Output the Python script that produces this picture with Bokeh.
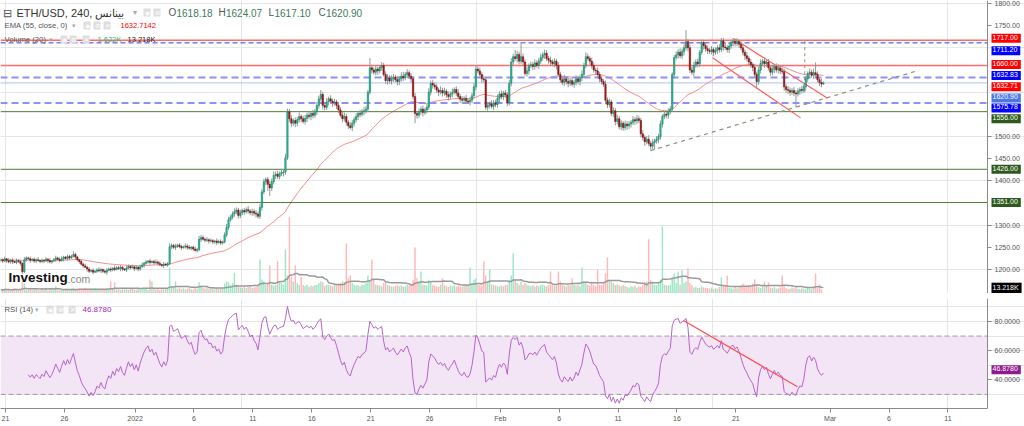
import numpy as np
import pandas as pd
from bokeh.plotting import figure
from bokeh.models import (Range1d, LinearAxis, FixedTicker, Label,
                          ColumnDataSource, NumeralTickFormatter, BoxAnnotation)
from bokeh.layouts import column
from bokeh.embed import file_html
from bokeh.resources import INLINE

# ---------------- data (4h bars, ETH/USD) ----------------
closes = [
    1222, 1219, 1224, 1220, 1217, 1221, 1218, 1216, 1220, 1218,
    1214, 1195, 1222, 1226, 1224, 1221, 1223, 1219, 1222, 1220,
    1218, 1221, 1219, 1223, 1220, 1217, 1219, 1222, 1226, 1223,
    1220, 1224, 1228, 1225, 1229, 1226, 1230, 1234, 1228, 1222,
    1218, 1212, 1208, 1205, 1201, 1196, 1198, 1194, 1196, 1199,
    1197, 1200, 1196, 1194, 1198, 1201, 1199, 1203, 1200, 1204,
    1202, 1205, 1201, 1199, 1203, 1207, 1204, 1206, 1202, 1205,
    1201, 1206, 1210, 1214, 1217, 1219, 1216, 1218, 1215, 1217,
    1214, 1211, 1209, 1212, 1210, 1213, 1251, 1254, 1250, 1252,
    1255, 1252, 1249, 1251, 1253, 1250, 1248, 1250, 1246, 1243,
    1245, 1268, 1272, 1268, 1266, 1267, 1264, 1265, 1262, 1264,
    1261, 1263, 1260, 1262, 1278, 1295, 1312, 1318, 1325, 1330,
    1334, 1322, 1328, 1333, 1330, 1335, 1332, 1328, 1331, 1327,
    1325, 1320, 1340, 1375, 1398, 1403, 1392, 1384, 1398, 1412,
    1415, 1410, 1416, 1419, 1420, 1452, 1556, 1540, 1530, 1536,
    1530, 1538, 1545, 1540, 1534, 1541, 1548, 1545, 1552, 1548,
    1556, 1570, 1585, 1595, 1570, 1566, 1578, 1585, 1580, 1576,
    1578, 1570, 1560, 1548, 1540, 1545, 1532, 1524, 1520, 1530,
    1538, 1545, 1552, 1550, 1556, 1558, 1562, 1600, 1655, 1650,
    1645, 1652, 1648, 1656, 1660, 1640, 1626, 1632, 1625, 1630,
    1634, 1628, 1624, 1630, 1636, 1632, 1640, 1644, 1636, 1630,
    1590, 1552, 1548, 1556, 1562, 1554, 1560, 1566, 1600, 1620,
    1616, 1612, 1605, 1600, 1604, 1598, 1602, 1594, 1590, 1596,
    1600, 1606, 1598, 1590, 1584, 1582, 1586, 1580, 1578, 1582,
    1592, 1612, 1652, 1648, 1640, 1630, 1628, 1566, 1570, 1574,
    1568, 1576, 1572, 1586, 1596, 1590, 1598, 1594, 1576, 1620,
    1668, 1680, 1676, 1685, 1670, 1680, 1668, 1642, 1648, 1660,
    1662, 1658, 1666, 1660, 1670, 1678, 1684, 1688, 1676, 1672,
    1668, 1664, 1670, 1660, 1640, 1628, 1622, 1630, 1624, 1620,
    1626, 1618, 1622, 1630, 1624, 1632, 1640, 1660, 1680, 1676,
    1670, 1660, 1650, 1648, 1640, 1630, 1624, 1618, 1582, 1572,
    1578, 1552, 1558, 1534, 1540, 1522, 1530, 1520, 1528, 1524,
    1528, 1532, 1538, 1535, 1540, 1536, 1506, 1498, 1488, 1494,
    1484, 1478, 1486, 1490, 1494, 1500, 1528, 1545, 1550, 1548,
    1556, 1562, 1640, 1678, 1684, 1690, 1682, 1692, 1700, 1714,
    1700, 1650, 1645, 1660, 1668, 1664, 1690, 1712, 1705, 1698,
    1694, 1692, 1696, 1690, 1694, 1700, 1696, 1716, 1702, 1700,
    1696, 1704, 1712, 1715, 1710, 1714, 1708, 1700, 1690, 1682,
    1676, 1668, 1662, 1656, 1640, 1624, 1650, 1665, 1670, 1664,
    1668, 1655, 1645, 1652, 1658, 1650, 1654, 1648, 1646, 1612,
    1606, 1604, 1600, 1604, 1598, 1596, 1602, 1606, 1604, 1612,
    1630, 1642, 1645, 1638, 1644, 1640, 1628, 1622, 1618.18, 1620.90,
]
wick_up = [
    4,3,5,2,6,3,4,2,5,3,4,2,6,4,3,5,2,4,3,6,
    3,4,2,5,3,6,2,4,5,3,4,6,3,2,5,4,3,7,4,3,
    2,4,3,5,3,4,2,5,3,4,6,3,2,4,5,3,4,2,6,3,
    4,5,3,2,6,4,3,5,2,4,3,5,6,3,4,2,5,3,4,6,
    3,4,2,5,3,4,8,5,4,6,3,5,4,3,6,4,5,3,4,6,
    4,8,6,5,4,6,3,5,4,3,6,4,5,3,6,8,7,5,6,8,
    6,5,7,4,6,5,8,4,6,5,7,6,8,6,7,5,6,8,7,9,
    6,7,5,8,6,9,7,6,8,5,7,6,9,5,7,8,6,7,5,8,
    6,8,7,10,6,7,9,5,8,6,7,5,8,6,7,9,6,5,8,7,
    6,7,5,8,6,9,7,5,22,7,6,8,5,4,8,6,7,9,6,8,
    7,5,8,6,9,10,6,8,5,7,6,8,5,7,6,8,5,7,9,6,
    8,6,7,5,9,6,8,5,7,6,8,5,7,9,6,7,5,8,6,7,
    6,8,9,6,7,5,8,6,7,5,8,6,7,9,6,8,5,7,6,8,
    9,7,15,8,6,30,7,6,8,5,7,6,8,6,7,9,6,8,7,6,
    8,6,7,5,8,6,7,9,5,8,6,7,5,8,6,7,9,6,10,7,
    6,8,7,5,8,6,7,5,8,6,7,5,8,6,9,6,7,5,8,6,
    7,5,8,6,9,7,6,8,5,7,9,6,8,5,7,6,8,5,7,6,
    8,6,5,6,8,7,9,6,8,26,6,8,7,9,6,8,5,7,6,8,
    7,6,8,5,7,6,8,6,7,9,6,8,5,7,6,8,5,7,9,6,
    8,6,7,5,8,6,7,9,5,8,6,7,5,8,6,7,9,6,8,7,
    6,8,7,5,8,6,7,5,8,6,7,5,8,6,9,23,7,6,8,3,
]
wick_dn = [
    3,4,2,5,3,4,6,2,4,3,5,5,3,4,2,6,3,4,5,2,
    4,3,5,2,6,3,4,2,5,3,4,2,6,3,5,4,2,3,6,4,
    5,3,4,2,6,4,3,5,2,4,3,5,4,3,6,2,5,3,4,2,
    3,6,4,2,5,3,4,2,6,3,5,4,2,6,3,4,5,2,4,3,
    5,3,4,6,2,4,3,5,4,6,3,4,5,2,4,6,3,5,4,3,
    5,4,6,3,5,4,6,3,5,4,6,3,5,4,3,5,6,4,5,6,
    5,7,6,5,7,4,6,5,7,6,8,5,6,7,5,8,15,18,7,6,
    8,6,7,5,9,6,5,7,8,6,9,7,6,8,5,7,9,6,8,7,
    6,8,7,6,9,7,6,8,7,9,6,8,7,5,8,6,8,7,4,8,
    7,6,8,7,5,8,6,7,5,8,6,7,9,6,8,5,7,9,6,8,
    7,6,9,8,6,7,5,8,6,9,7,22,8,6,7,9,5,8,6,7,
    8,6,7,9,5,8,6,7,9,6,8,5,7,6,8,9,6,7,5,8,
    7,6,8,5,7,9,6,6,8,7,5,8,6,7,9,6,8,7,8,6,
    7,8,6,9,7,6,8,5,7,9,6,8,7,5,8,6,7,9,6,8,
    7,6,8,9,5,7,6,8,7,9,6,5,8,7,6,9,7,8,6,5,
    8,7,6,9,5,8,7,6,9,8,7,6,8,9,7,6,8,7,6,9,
    7,8,6,9,7,6,8,7,9,6,6,8,7,16,6,9,7,8,6,7,
    8,6,7,9,5,8,6,7,9,6,8,7,6,9,5,8,7,6,9,7,
    8,6,7,9,6,8,7,6,9,5,7,8,6,9,7,6,8,5,7,9,
    6,8,7,9,6,16,7,8,6,9,7,6,8,7,9,6,8,7,6,9,
    7,8,8,6,7,30,6,8,7,6,8,7,9,6,8,7,6,8,7,1,
]
volume_k = [
    10,8,12,9,11,7,10,13,9,8,11,30,25,10,9,12,8,10,11,9,
    8,10,9,12,7,11,9,10,18,9,8,11,10,12,9,8,10,13,9,11,
    12,9,10,14,11,10,12,9,13,10,11,12,9,10,14,11,30,12,28,10,
    11,9,15,10,12,9,11,13,10,9,12,10,11,14,12,9,35,30,12,10,
    11,9,12,10,13,11,65,18,14,30,12,15,11,13,10,12,14,11,10,15,
    12,28,20,14,12,15,11,13,12,10,14,12,11,13,25,30,28,22,26,52,
    22,18,15,14,16,14,16,18,14,15,16,20,85,35,30,21,26,70,22,20,
    21,80,30,26,22,110,45,190,42,30,70,26,22,42,21,19,22,17,20,18,
    21,22,26,30,28,19,22,21,20,18,22,21,24,26,30,28,125,38,45,26,
    22,20,21,18,22,21,26,45,30,85,34,22,21,20,18,26,30,21,20,18,
    17,19,21,18,20,17,18,21,20,22,34,115,38,30,55,22,21,20,34,30,
    21,20,18,17,22,38,21,18,17,20,18,21,17,20,18,17,21,20,22,65,
    26,34,38,22,21,20,80,45,30,60,22,21,20,18,17,20,18,21,22,34,
    45,100,34,26,22,30,21,26,22,20,18,21,17,20,18,21,22,20,18,21,
    55,22,20,21,55,30,22,20,18,21,20,38,22,20,21,18,65,30,26,22,
    20,30,21,18,60,22,21,26,50,90,34,30,26,21,22,20,18,21,19,17,
    15,18,17,20,15,18,17,21,28,30,135,34,30,22,21,26,34,168,22,21,
    20,22,40,50,26,55,22,58,26,30,63,26,21,15,17,14,15,18,15,14,
    14,12,15,11,13,12,16,40,20,18,45,15,13,12,16,13,15,20,25,18,
    16,20,18,25,35,22,16,14,18,30,20,28,15,13,16,12,13,15,45,20,
    13,11,12,15,13,16,12,11,13,12,12,15,13,11,16,50,13,22,11,1.622,
]
first_open = 1220.0
last_ohlc = [1618.18, 1624.07, 1617.10, 1620.90]
bar_start_day = -0.4          # days from 21 Dec 2021
bar_step_day = 1 / 6          # 4-hour bars

red_levels = [1717.00, 1660.00]
blue_levels = [1632.83, 1575.78]
darkblue_levels = [1711.20]
green_levels = [1556.00, 1426.00, 1351.00]
last_price = 1620.90
ema_last = "1632.7142"
rsi_last = 46.8780
vol_last = "1.622K"
vol_ma_last = 13.218

channel_upper = ([61.8, 69.78], [1721, 1586])
channel_lower = ([60.02, 67.49], [1677.5, 1542])
support_trend = ([54.75, 77.5], [1468, 1649])
vertical_marker = ([67.85, 67.85], [1715, 1595])
rsi_trend = ([57.56, 67.23], [80.7, 35.2])
rsi_bands = [30, 70]

x_ticks = [0, 5, 11, 16, 21, 26, 31, 36, 42, 47, 52, 57, 62, 70, 75, 80]
x_tick_labels = ["21", "26", "2022", "6", "11", "16", "21", "26", "Feb",
                 "6", "11", "16", "21", "Mar", "6", "11"]
price_ticks = [1200, 1250, 1300, 1400, 1450, 1500, 1750, 1800]
rsi_ticks = [40, 60, 80]

# ---------------- derived ----------------
n = len(closes)
assert len(wick_up) == n and len(wick_dn) == n and len(volume_k) == n
opens = [first_open] + closes[:-1]
highs = [max(o, c) + u for o, c, u in zip(opens, closes, wick_up)]
lows = [min(o, c) - d for o, c, d in zip(opens, closes, wick_dn)]
opens[-1], highs[-1], lows[-1], closes[-1] = last_ohlc
t = bar_start_day + np.arange(n) * bar_step_day
up = [c >= o for o, c in zip(opens, closes)]

s = pd.Series(closes, dtype=float)
ema = s.ewm(span=55, adjust=False).mean()
d = s.diff()
g = d.clip(lower=0)
l = (-d).clip(lower=0)
ag = g.ewm(alpha=1 / 14, adjust=False, min_periods=14).mean()
al = l.ewm(alpha=1 / 14, adjust=False, min_periods=14).mean()
rsi = 100 - 100 / (1 + ag / al)
vol_ma = pd.Series(volume_k).rolling(20, min_periods=1).mean()

src = ColumnDataSource(dict(
    t=t, o=opens, h=highs, l=lows, c=closes,
    top=[max(a, b) for a, b in zip(opens, closes)],
    bot=[min(a, b) for a, b in zip(opens, closes)],
    fill=["#22c3a0" if u_ else "#a81818" for u_ in up],
    edge=["#127a5e" if u_ else "#7a0e0e" for u_ in up],
    vcol=["#9fe6c9" if u_ else "#ffb9b9" for u_ in up],
    vol=volume_k, vma=vol_ma, ema=ema, rsi=rsi,
))

FONT = "Liberation Sans"
PX_PER_DAY = 11.78
FW = 1024
x0 = -5 / PX_PER_DAY
x1 = x0 + FW / PX_PER_DAY
x_axis_pos = x0 + 987 / PX_PER_DAY     # price-scale line
MAIN_H = 293
PX_PER_USD = 0.4433
y_top = 1800 + 3 / PX_PER_USD
y_bot = y_top - MAIN_H / PX_PER_USD

xr = Range1d(x0, x1)


def style_axis(ax, standoff=3):
    ax.major_label_text_font_size = "7px"
    ax.major_label_text_color = "#555555"
    ax.major_label_text_font = FONT
    ax.major_tick_out = 4
    ax.major_tick_in = 0
    ax.minor_tick_out = 0
    ax.minor_tick_in = 0
    ax.major_tick_line_color = "#8a8a8a"
    ax.axis_line_color = "#8a8a8a"
    ax.major_label_standoff = standoff


def hlines(fig, levels, **kw):
    fig.segment(x0=[x0] * len(levels), x1=[x_axis_pos] * len(levels),
                y0=levels, y1=levels, **kw)


# ---------------- main panel ----------------
p = figure(frame_width=FW, frame_height=MAIN_H, x_range=xr,
           y_range=Range1d(y_bot, y_top), output_backend="svg",
           toolbar_location=None, x_axis_location=None, y_axis_location=None,
           min_border=0, outline_line_color=None,
           background_fill_color="white", border_fill_color="white")
p.extra_y_ranges = {"vol": Range1d(0, vol_ma_last / 5.3 * MAIN_H)}

yax = LinearAxis(ticker=FixedTicker(ticks=price_ticks),
                 formatter=NumeralTickFormatter(format="0.00"),
                 fixed_location=x_axis_pos)
style_axis(yax)
p.add_layout(yax, "right")

# volume
p.vbar(x="t", top="vol", bottom=0, width=bar_step_day * 0.75, source=src,
       fill_color="vcol", line_color=None, y_range_name="vol")
p.line(x="t", y="vma", source=src, line_color="#9a9a9a", line_width=1.5,
       y_range_name="vol")

# EMA
p.line(x="t", y="ema", source=src, line_color="#f58a8a", line_width=1)

# horizontal levels
hlines(p, red_levels, line_color="#ff6b6b", line_width=1.5)
hlines(p, darkblue_levels, line_color="#3b3bf0", line_width=1, line_dash="5 3")
hlines(p, blue_levels, line_color="#8f8ff7", line_width=2, line_dash="7 4")
hlines(p, green_levels, line_color="#4f7a35", line_width=1)
hlines(p, [last_price], line_color="#6b7ff0", line_width=1, line_dash="1 1")

# drawings
p.line(support_trend[0], support_trend[1], line_color="#8a9180", line_width=1.2, line_dash="4 4")
p.line(vertical_marker[0], vertical_marker[1], line_color="#8a9a7a", line_width=1, line_dash="3 3")
p.line(channel_upper[0], channel_upper[1], line_color="#ff5c5c", line_width=1.2)
p.line(channel_lower[0], channel_lower[1], line_color="#ff5c5c", line_width=1.2)

# candles
p.segment(x0="t", y0="h", x1="t", y1="l", source=src, line_color="#8d9b95", line_width=1)
p.vbar(x="t", top="top", bottom="bot", width=bar_step_day * 0.72, source=src,
       fill_color="fill", line_color="edge", line_width=0.5)


def price_box(fig, y, text, bg, dy=0, range_name="default", color="white"):
    fig.add_layout(Label(x=x_axis_pos, y=y, x_offset=4, y_offset=dy, text=text,
                         text_font=FONT, text_font_size="7px", text_color=color,
                         text_baseline="middle", text_align="left",
                         background_fill_color=bg, padding=(1, 3, 1, 3),
                         y_range_name=range_name))


price_box(p, 1717.00, "1717.00", "#ff0000", 2)
price_box(p, 1711.20, "1711.20", "#0000ff", -8)
price_box(p, 1660.00, "1660.00", "#ff0000", 1)
price_box(p, 1632.83, "1632.83", "#0000ff", 2)
price_box(p, 1632.7142, "1632.71", "#ff0000", -9)
price_box(p, 1620.90, "1620.90", "#4b78e0", -15)
price_box(p, 1575.78, "1575.78", "#0000ff", -5)
price_box(p, 1556.00, "1556.00", "#2d5a1c", -7)
price_box(p, 1426.00, "1426.00", "#2d5a1c", 0)
price_box(p, 1351.00, "1351.00", "#2d5a1c", 0)
price_box(p, vol_ma_last, "13.218K", "#000000", 0, "vol")


def tl(fig, fh, x, y, text, size, color, bold=False, bg=None, pad=0):
    kw = {}
    if bg is not None:
        kw = dict(background_fill_color=bg, padding=pad)
    fig.add_layout(Label(x=x, y=fh - y, x_units="screen", y_units="screen",
                         text=text, text_font=FONT, text_font_size=f"{size}px",
                         text_color=color, text_baseline="middle",
                         text_font_style="bold" if bold else "normal", **kw))


def icons(fig, fh, xs, y):
    for xx, ch in zip(xs, ["◉", "⚙", "✕"]):
        tl(fig, fh, xx, y, ch, 6, "#ffffff", bg="#dedede", pad=1)


tl(p, MAIN_H, 2, 12, "⊟", 11, "#555555")
tl(p, MAIN_H, 16, 12, "ETH/USD, 240, بينانس", 11, "#333333")
tl(p, MAIN_H, 132, 12, "▾", 8, "#aaaaaa")
icons(p, MAIN_H, [143, 153], 12)
ohlc_txt = [("O", "1618.18", 168, 8), ("H", "1624.07", 218, 7.5),
            ("L", "1617.10", 268, 6), ("C", "1620.90", 318, 7.5)]
for lt, num, xx, w in ohlc_txt:
    tl(p, MAIN_H, xx, 12, lt, 10, "#555555")
    tl(p, MAIN_H, xx + w, 12, num, 10, "#3d7a5a")
tl(p, MAIN_H, 4, 25, "EMA (55, close, 0)", 7.7, "#555555")
tl(p, MAIN_H, 71, 25, "▾", 7, "#aaaaaa")
icons(p, MAIN_H, [83, 93, 103], 25)
tl(p, MAIN_H, 120, 25, ema_last, 7.5, "#ff0000")
tl(p, MAIN_H, 4, 39, "Volume (20)", 7.7, "#555555")
tl(p, MAIN_H, 48, 39, "▾", 7, "#aaaaaa")
icons(p, MAIN_H, [60, 69, 82], 39)
tl(p, MAIN_H, 97, 39, vol_last, 7.5, "#2fb880")
tl(p, MAIN_H, 127, 39, "13.218K", 7.5, "#222222")
tl(p, MAIN_H, 8, 277, "Investing", 13.5, "#111111", bold=True)
tl(p, MAIN_H, 67, 278, ".com", 10.5, "#8a8a8a")

# ---------------- separator ----------------
sep = figure(frame_width=1024, frame_height=5, output_backend="svg",
             toolbar_location=None, x_axis_location=None, y_axis_location=None,
             min_border=0, outline_line_color=None,
             background_fill_color="#595959", border_fill_color="#595959")

# ---------------- RSI panel ----------------
RSI_H = 110
r_top = 80 + 23 / 1.4575
r_bot = r_top - RSI_H / 1.4575
r = figure(frame_width=FW, frame_height=RSI_H, x_range=xr,
           y_range=Range1d(r_bot, r_top), output_backend="svg",
           toolbar_location=None, x_axis_location=None, y_axis_location=None,
           min_border=0, min_border_bottom=14, outline_line_color=None,
           background_fill_color="white", border_fill_color="white")
r.add_layout(BoxAnnotation(bottom=rsi_bands[0], top=rsi_bands[1], left=x0,
                           right=x_axis_pos, fill_color="#f3e5f5", fill_alpha=1,
                           line_color=None, level="underlay"))
hlines(r, rsi_bands, line_color="#9e9e9e", line_width=1, line_dash="5 3")
r.line(x="t", y="rsi", source=src, line_color="#b565c9", line_width=1)
r.line(rsi_trend[0], rsi_trend[1], line_color="#ff4d4d", line_width=1.2)

rax = LinearAxis(ticker=FixedTicker(ticks=rsi_ticks),
                 formatter=NumeralTickFormatter(format="0.0000"),
                 fixed_location=x_axis_pos)
bax = LinearAxis(ticker=FixedTicker(ticks=x_ticks), bounds=(x0, x_axis_pos),
                 major_label_overrides={k: v for k, v in zip(x_ticks, x_tick_labels)})
style_axis(rax)
style_axis(bax, 2)
r.add_layout(rax, "right")
r.add_layout(bax, "below")

price_box(r, rsi_last, "46.8780", "#8e1b8e", 0)
tl(r, RSI_H, 4, 11, "RSI (14)", 7.7, "#555555")
tl(r, RSI_H, 34, 11, "▾", 7, "#aaaaaa")
icons(r, RSI_H, [46, 56, 68], 11)
tl(r, RSI_H, 82, 11, "46.8780", 8, "#9c27b0")

layout = column(p, sep, r, spacing=0)
open("out.html", "w").write(file_html(layout, INLINE))
